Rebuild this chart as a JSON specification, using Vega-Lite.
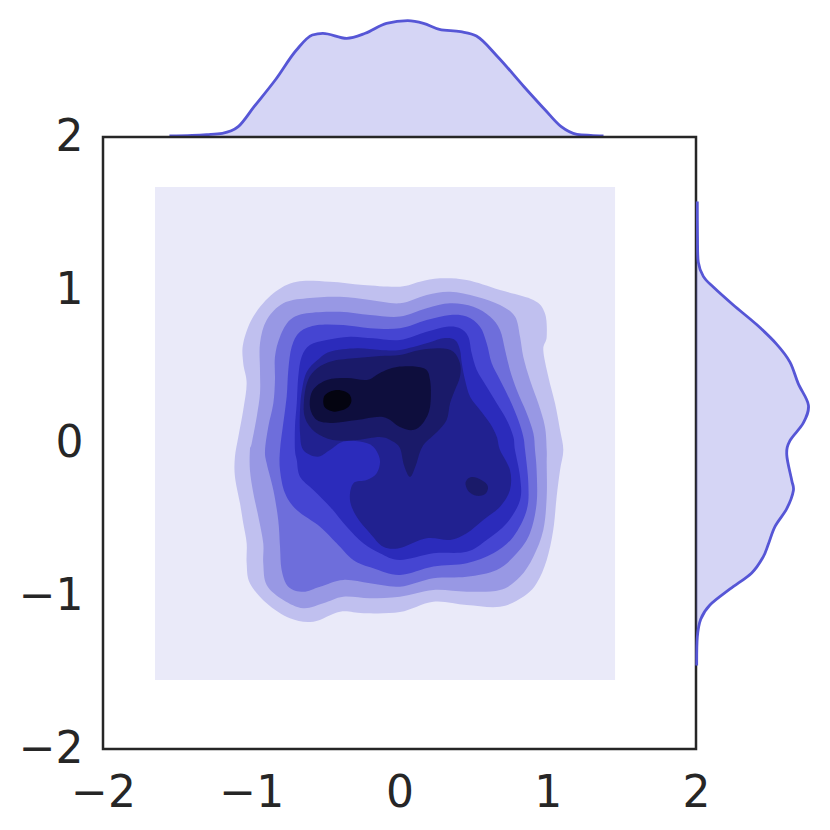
{
  "$schema": "https://vega.github.io/schema/vega-lite/v6.json",
  "padding": {"left": 16, "top": 15, "right": 0, "bottom": 0},
  "background": "white",
  "config": {
    "font": "DejaVu Sans",
    "view": {"stroke": null},
    "axis": {"labelFont": "DejaVu Sans", "labelFontSize": 44, "labelColor": "#262626", "grid": false, "ticks": false, "tickSize": 0, "domain": false, "labelFlush": false, "labelOverlap": false, "title": null}
  },
  "spacing": 0,
  "bounds": "flush",
  "vconcat": [
    {
      "width": 593,
      "height": 122,
      "data": {"values": [
        {"x": -1.552, "d": 0.005}, {"x": -1.4, "d": 0.008}, {"x": -1.3, "d": 0.012}, {"x": -1.195, "d": 0.0185},
        {"x": -1.088, "d": 0.0515}, {"x": -0.981, "d": 0.1515}, {"x": -0.838, "d": 0.285}, {"x": -0.695, "d": 0.435},
        {"x": -0.588, "d": 0.51}, {"x": -0.517, "d": 0.5185}, {"x": -0.356, "d": 0.4935}, {"x": -0.231, "d": 0.5185},
        {"x": -0.088, "d": 0.5685}, {"x": 0.055, "d": 0.5815}, {"x": 0.162, "d": 0.5685}, {"x": 0.269, "d": 0.5385},
        {"x": 0.412, "d": 0.5265}, {"x": 0.519, "d": 0.505}, {"x": 0.662, "d": 0.4015}, {"x": 0.84, "d": 0.2515},
        {"x": 0.983, "d": 0.135}, {"x": 1.091, "d": 0.0515}, {"x": 1.197, "d": 0.0135}, {"x": 1.29, "d": 0.008},
        {"x": 1.376, "d": 0.005}
      ]},
      "layer": [
        {"mark": {"type": "area", "color": "#5656d6", "opacity": 0.25, "interpolate": "monotone"},
         "encoding": {"x": {"field": "x", "type": "quantitative", "scale": {"domain": [-2, 2], "nice": false}, "axis": null},
                      "y": {"field": "d", "type": "quantitative", "scale": {"domain": [0, 0.61], "nice": false}, "axis": null}}},
        {"mark": {"type": "line", "color": "#5656d6", "strokeWidth": 2.8, "interpolate": "monotone"},
         "encoding": {"x": {"field": "x", "type": "quantitative"},
                      "y": {"field": "d", "type": "quantitative"}}}
      ]
    },
    {
      "spacing": 0,
      "bounds": "flush",
      "hconcat": [
        {
          "width": 593,
          "height": 612,
          "view": {"stroke": "#262626", "strokeWidth": 2.5},
          "layer": [
            {"data": {"values": [{"x0": -1.649, "x1": 1.454, "y0": -1.549, "y1": 1.673}]},
             "mark": {"type": "rect", "color": "#eaeaf9"},
             "encoding": {
               "x": {"field": "x0", "type": "quantitative", "scale": {"domain": [-2, 2], "nice": false}, "axis": {"values": [-2, -1, 0, 1, 2], "format": "d", "labelPadding": 22}},
               "x2": {"field": "x1"},
               "y": {"field": "y0", "type": "quantitative", "scale": {"domain": [-2, 2], "nice": false}, "axis": {"values": [-2, -1, 0, 1, 2], "format": "d", "labelPadding": 20}},
               "y2": {"field": "y1"}}},
            {"data": {"values": [
              {"p":"a","c":1,"x":-0.851,"y":0.978},{"p":"a","c":1,"x":-0.693,"y":1.054},{"p":"a","c":1,"x":-0.469,"y":1.054},{"p":"a","c":1,"x":-0.244,"y":1.033},{"p":"a","c":1,"x":0.003,"y":1.022},{"p":"a","c":1,"x":0.138,"y":1.054},{"p":"a","c":1,"x":0.273,"y":1.076},{"p":"a","c":1,"x":0.453,"y":1.065},{"p":"a","c":1,"x":0.678,"y":1.0},{"p":"a","c":1,"x":0.903,"y":0.935},{"p":"a","c":1,"x":0.981,"y":0.848},{"p":"a","c":1,"x":0.993,"y":0.695},{"p":"a","c":1,"x":0.97,"y":0.608},{"p":"a","c":1,"x":1.004,"y":0.433},{"p":"a","c":1,"x":1.049,"y":0.259},{"p":"a","c":1,"x":1.083,"y":0.085},{"p":"a","c":1,"x":1.105,"y":-0.046},{"p":"a","c":1,"x":1.083,"y":-0.177},{"p":"a","c":1,"x":1.06,"y":-0.351},{"p":"a","c":1,"x":1.037,"y":-0.569},{"p":"a","c":1,"x":0.993,"y":-0.765},{"p":"a","c":1,"x":0.925,"y":-0.917},{"p":"a","c":1,"x":0.835,"y":-1.005},{"p":"a","c":1,"x":0.678,"y":-1.07},{"p":"a","c":1,"x":0.453,"y":-1.059},{"p":"a","c":1,"x":0.228,"y":-1.037},{"p":"a","c":1,"x":0.003,"y":-1.105},{"p":"a","c":1,"x":-0.244,"y":-1.113},{"p":"a","c":1,"x":-0.401,"y":-1.103},{"p":"a","c":1,"x":-0.581,"y":-1.168},{"p":"a","c":1,"x":-0.739,"y":-1.146},{"p":"a","c":1,"x":-0.896,"y":-1.048},{"p":"a","c":1,"x":-1.009,"y":-0.917},{"p":"a","c":1,"x":-1.031,"y":-0.786},{"p":"a","c":1,"x":-1.031,"y":-0.656},{"p":"a","c":1,"x":-1.054,"y":-0.525},{"p":"a","c":1,"x":-1.076,"y":-0.394},{"p":"a","c":1,"x":-1.11,"y":-0.22},{"p":"a","c":1,"x":-1.11,"y":-0.09},{"p":"a","c":1,"x":-1.087,"y":0.041},{"p":"a","c":1,"x":-1.054,"y":0.216},{"p":"a","c":1,"x":-1.031,"y":0.39},{"p":"a","c":1,"x":-1.054,"y":0.521},{"p":"a","c":1,"x":-1.054,"y":0.652},{"p":"a","c":1,"x":-0.986,"y":0.826},
              {"p":"b","c":2,"x":-0.784,"y":0.913},{"p":"b","c":2,"x":-0.626,"y":0.946},{"p":"b","c":2,"x":-0.401,"y":0.956},{"p":"b","c":2,"x":-0.199,"y":0.935},{"p":"b","c":2,"x":0.003,"y":0.913},{"p":"b","c":2,"x":0.183,"y":0.967},{"p":"b","c":2,"x":0.341,"y":0.989},{"p":"b","c":2,"x":0.521,"y":0.956},{"p":"b","c":2,"x":0.678,"y":0.902},{"p":"b","c":2,"x":0.779,"y":0.826},{"p":"b","c":2,"x":0.813,"y":0.695},{"p":"b","c":2,"x":0.835,"y":0.564},{"p":"b","c":2,"x":0.88,"y":0.412},{"p":"b","c":2,"x":0.936,"y":0.259},{"p":"b","c":2,"x":0.981,"y":0.107},{"p":"b","c":2,"x":0.993,"y":-0.046},{"p":"b","c":2,"x":0.993,"y":-0.133},{"p":"b","c":2,"x":0.993,"y":-0.351},{"p":"b","c":2,"x":0.97,"y":-0.569},{"p":"b","c":2,"x":0.903,"y":-0.743},{"p":"b","c":2,"x":0.813,"y":-0.874},{"p":"b","c":2,"x":0.678,"y":-0.961},{"p":"b","c":2,"x":0.453,"y":-0.972},{"p":"b","c":2,"x":0.228,"y":-0.961},{"p":"b","c":2,"x":0.003,"y":-1.005},{"p":"b","c":2,"x":-0.199,"y":-1.015},{"p":"b","c":2,"x":-0.379,"y":-1.005},{"p":"b","c":2,"x":-0.514,"y":-1.048},{"p":"b","c":2,"x":-0.649,"y":-1.08},{"p":"b","c":2,"x":-0.784,"y":-1.026},{"p":"b","c":2,"x":-0.896,"y":-0.928},{"p":"b","c":2,"x":-0.919,"y":-0.786},{"p":"b","c":2,"x":-0.919,"y":-0.656},{"p":"b","c":2,"x":-0.952,"y":-0.482},{"p":"b","c":2,"x":-0.986,"y":-0.329},{"p":"b","c":2,"x":-1.009,"y":-0.177},{"p":"b","c":2,"x":-1.009,"y":-0.046},{"p":"b","c":2,"x":-0.997,"y":-0.002},{"p":"b","c":2,"x":-0.963,"y":0.172},{"p":"b","c":2,"x":-0.941,"y":0.325},{"p":"b","c":2,"x":-0.941,"y":0.477},{"p":"b","c":2,"x":-0.941,"y":0.652},{"p":"b","c":2,"x":-0.896,"y":0.804},
              {"p":"c","c":3,"x":-0.739,"y":0.804},{"p":"c","c":3,"x":-0.626,"y":0.848},{"p":"c","c":3,"x":-0.401,"y":0.858},{"p":"c","c":3,"x":-0.199,"y":0.837},{"p":"c","c":3,"x":0.003,"y":0.826},{"p":"c","c":3,"x":0.183,"y":0.88},{"p":"c","c":3,"x":0.341,"y":0.913},{"p":"c","c":3,"x":0.498,"y":0.891},{"p":"c","c":3,"x":0.61,"y":0.826},{"p":"c","c":3,"x":0.678,"y":0.739},{"p":"c","c":3,"x":0.712,"y":0.608},{"p":"c","c":3,"x":0.745,"y":0.477},{"p":"c","c":3,"x":0.791,"y":0.346},{"p":"c","c":3,"x":0.858,"y":0.194},{"p":"c","c":3,"x":0.903,"y":0.063},{"p":"c","c":3,"x":0.914,"y":-0.046},{"p":"c","c":3,"x":0.925,"y":-0.177},{"p":"c","c":3,"x":0.925,"y":-0.394},{"p":"c","c":3,"x":0.88,"y":-0.59},{"p":"c","c":3,"x":0.791,"y":-0.721},{"p":"c","c":3,"x":0.656,"y":-0.83},{"p":"c","c":3,"x":0.453,"y":-0.874},{"p":"c","c":3,"x":0.228,"y":-0.884},{"p":"c","c":3,"x":0.003,"y":-0.939},{"p":"c","c":3,"x":-0.199,"y":-0.917},{"p":"c","c":3,"x":-0.379,"y":-0.895},{"p":"c","c":3,"x":-0.536,"y":-0.939},{"p":"c","c":3,"x":-0.649,"y":-0.972},{"p":"c","c":3,"x":-0.75,"y":-0.939},{"p":"c","c":3,"x":-0.795,"y":-0.83},{"p":"c","c":3,"x":-0.806,"y":-0.678},{"p":"c","c":3,"x":-0.818,"y":-0.503},{"p":"c","c":3,"x":-0.851,"y":-0.307},{"p":"c","c":3,"x":-0.896,"y":-0.133},{"p":"c","c":3,"x":-0.907,"y":-0.046},{"p":"c","c":3,"x":-0.885,"y":0.107},{"p":"c","c":3,"x":-0.851,"y":0.259},{"p":"c","c":3,"x":-0.84,"y":0.412},{"p":"c","c":3,"x":-0.84,"y":0.564},{"p":"c","c":3,"x":-0.806,"y":0.695},
              {"p":"d","c":4,"x":-0.671,"y":0.727},{"p":"d","c":4,"x":-0.553,"y":0.771},{"p":"d","c":4,"x":-0.379,"y":0.771},{"p":"d","c":4,"x":-0.199,"y":0.75},{"p":"d","c":4,"x":0.003,"y":0.75},{"p":"d","c":4,"x":0.183,"y":0.804},{"p":"d","c":4,"x":0.341,"y":0.837},{"p":"d","c":4,"x":0.453,"y":0.826},{"p":"d","c":4,"x":0.543,"y":0.76},{"p":"d","c":4,"x":0.588,"y":0.652},{"p":"d","c":4,"x":0.622,"y":0.521},{"p":"d","c":4,"x":0.678,"y":0.412},{"p":"d","c":4,"x":0.745,"y":0.281},{"p":"d","c":4,"x":0.801,"y":0.15},{"p":"d","c":4,"x":0.835,"y":0.041},{"p":"d","c":4,"x":0.847,"y":-0.046},{"p":"d","c":4,"x":0.869,"y":-0.263},{"p":"d","c":4,"x":0.858,"y":-0.438},{"p":"d","c":4,"x":0.768,"y":-0.612},{"p":"d","c":4,"x":0.633,"y":-0.721},{"p":"d","c":4,"x":0.453,"y":-0.786},{"p":"d","c":4,"x":0.228,"y":-0.808},{"p":"d","c":4,"x":0.003,"y":-0.863},{"p":"d","c":4,"x":-0.177,"y":-0.819},{"p":"d","c":4,"x":-0.312,"y":-0.765},{"p":"d","c":4,"x":-0.424,"y":-0.656},{"p":"d","c":4,"x":-0.536,"y":-0.547},{"p":"d","c":4,"x":-0.693,"y":-0.438},{"p":"d","c":4,"x":-0.772,"y":-0.329},{"p":"d","c":4,"x":-0.806,"y":-0.177},{"p":"d","c":4,"x":-0.806,"y":-0.046},{"p":"d","c":4,"x":-0.784,"y":0.129},{"p":"d","c":4,"x":-0.761,"y":0.303},{"p":"d","c":4,"x":-0.75,"y":0.477},{"p":"d","c":4,"x":-0.727,"y":0.629},
              {"p":"e","c":5,"x":-0.604,"y":0.641},{"p":"e","c":5,"x":-0.491,"y":0.673},{"p":"e","c":5,"x":-0.334,"y":0.695},{"p":"e","c":5,"x":-0.177,"y":0.684},{"p":"e","c":5,"x":0.003,"y":0.673},{"p":"e","c":5,"x":0.183,"y":0.727},{"p":"e","c":5,"x":0.318,"y":0.76},{"p":"e","c":5,"x":0.408,"y":0.75},{"p":"e","c":5,"x":0.464,"y":0.695},{"p":"e","c":5,"x":0.487,"y":0.586},{"p":"e","c":5,"x":0.521,"y":0.477},{"p":"e","c":5,"x":0.588,"y":0.368},{"p":"e","c":5,"x":0.656,"y":0.259},{"p":"e","c":5,"x":0.723,"y":0.15},{"p":"e","c":5,"x":0.768,"y":0.041},{"p":"e","c":5,"x":0.779,"y":-0.046},{"p":"e","c":5,"x":0.813,"y":-0.22},{"p":"e","c":5,"x":0.813,"y":-0.373},{"p":"e","c":5,"x":0.723,"y":-0.525},{"p":"e","c":5,"x":0.588,"y":-0.634},{"p":"e","c":5,"x":0.453,"y":-0.711},{"p":"e","c":5,"x":0.228,"y":-0.721},{"p":"e","c":5,"x":0.003,"y":-0.765},{"p":"e","c":5,"x":-0.132,"y":-0.721},{"p":"e","c":5,"x":-0.244,"y":-0.656},{"p":"e","c":5,"x":-0.356,"y":-0.547},{"p":"e","c":5,"x":-0.469,"y":-0.416},{"p":"e","c":5,"x":-0.581,"y":-0.307},{"p":"e","c":5,"x":-0.671,"y":-0.22},{"p":"e","c":5,"x":-0.693,"y":-0.111},{"p":"e","c":5,"x":-0.705,"y":-0.046},{"p":"e","c":5,"x":-0.705,"y":0.107},{"p":"e","c":5,"x":-0.693,"y":0.259},{"p":"e","c":5,"x":-0.683,"y":0.433},{"p":"e","c":5,"x":-0.66,"y":0.564},
              {"p":"f","c":6,"x":-0.553,"y":0.542},{"p":"f","c":6,"x":-0.469,"y":0.597},{"p":"f","c":6,"x":-0.289,"y":0.619},{"p":"f","c":6,"x":-0.132,"y":0.608},{"p":"f","c":6,"x":0.003,"y":0.608},{"p":"f","c":6,"x":0.183,"y":0.652},{"p":"f","c":6,"x":0.295,"y":0.684},{"p":"f","c":6,"x":0.374,"y":0.673},{"p":"f","c":6,"x":0.408,"y":0.608},{"p":"f","c":6,"x":0.42,"y":0.521},{"p":"f","c":6,"x":0.442,"y":0.412},{"p":"f","c":6,"x":0.476,"y":0.303},{"p":"f","c":6,"x":0.543,"y":0.216},{"p":"f","c":6,"x":0.61,"y":0.129},{"p":"f","c":6,"x":0.656,"y":0.041},{"p":"f","c":6,"x":0.678,"y":-0.046},{"p":"f","c":6,"x":0.745,"y":-0.177},{"p":"f","c":6,"x":0.745,"y":-0.307},{"p":"f","c":6,"x":0.678,"y":-0.416},{"p":"f","c":6,"x":0.565,"y":-0.503},{"p":"f","c":6,"x":0.453,"y":-0.59},{"p":"f","c":6,"x":0.341,"y":-0.634},{"p":"f","c":6,"x":0.183,"y":-0.623},{"p":"f","c":6,"x":0.003,"y":-0.686},{"p":"f","c":6,"x":-0.109,"y":-0.678},{"p":"f","c":6,"x":-0.199,"y":-0.59},{"p":"f","c":6,"x":-0.289,"y":-0.482},{"p":"f","c":6,"x":-0.334,"y":-0.373},{"p":"f","c":6,"x":-0.312,"y":-0.264},{"p":"f","c":6,"x":-0.221,"y":-0.242},{"p":"f","c":6,"x":-0.154,"y":-0.198},{"p":"f","c":6,"x":-0.132,"y":-0.111},{"p":"f","c":6,"x":-0.177,"y":-0.024},{"p":"f","c":6,"x":-0.267,"y":0.009},{"p":"f","c":6,"x":-0.379,"y":0.009},{"p":"f","c":6,"x":-0.469,"y":-0.046},{"p":"f","c":6,"x":-0.553,"y":-0.09},{"p":"f","c":6,"x":-0.649,"y":-0.046},{"p":"f","c":6,"x":-0.671,"y":0.063},{"p":"f","c":6,"x":-0.671,"y":0.216},{"p":"f","c":6,"x":-0.658,"y":0.346},{"p":"f","c":6,"x":-0.626,"y":0.464},
              {"p":"g","c":7,"x":-0.617,"y":0.412},{"p":"g","c":7,"x":-0.553,"y":0.49},{"p":"g","c":7,"x":-0.449,"y":0.536},{"p":"g","c":7,"x":-0.289,"y":0.555},{"p":"g","c":7,"x":-0.132,"y":0.569},{"p":"g","c":7,"x":0.003,"y":0.575},{"p":"g","c":7,"x":0.138,"y":0.608},{"p":"g","c":7,"x":0.273,"y":0.619},{"p":"g","c":7,"x":0.363,"y":0.597},{"p":"g","c":7,"x":0.408,"y":0.521},{"p":"g","c":7,"x":0.408,"y":0.433},{"p":"g","c":7,"x":0.374,"y":0.346},{"p":"g","c":7,"x":0.341,"y":0.259},{"p":"g","c":7,"x":0.318,"y":0.15},{"p":"g","c":7,"x":0.253,"y":0.072},{"p":"g","c":7,"x":0.172,"y":0.0},{"p":"g","c":7,"x":0.138,"y":-0.059},{"p":"g","c":7,"x":0.111,"y":-0.144},{"p":"g","c":7,"x":0.071,"y":-0.222},{"p":"g","c":7,"x":0.03,"y":-0.144},{"p":"g","c":7,"x":0.003,"y":-0.033},{"p":"g","c":7,"x":-0.051,"y":0.013},{"p":"g","c":7,"x":-0.132,"y":0.039},{"p":"g","c":7,"x":-0.287,"y":0.02},{"p":"g","c":7,"x":-0.449,"y":0.02},{"p":"g","c":7,"x":-0.57,"y":0.072},{"p":"g","c":7,"x":-0.637,"y":0.163},{"p":"g","c":7,"x":-0.644,"y":0.281},
              {"p":"h","c":7,"x":0.445,"y":-0.26},{"p":"h","c":7,"x":0.475,"y":-0.225},{"p":"h","c":7,"x":0.525,"y":-0.228},{"p":"h","c":7,"x":0.58,"y":-0.26},{"p":"h","c":7,"x":0.597,"y":-0.295},{"p":"h","c":7,"x":0.575,"y":-0.335},{"p":"h","c":7,"x":0.52,"y":-0.345},{"p":"h","c":7,"x":0.465,"y":-0.315},
              {"p":"i","c":8,"x":-0.584,"y":0.346},{"p":"i","c":8,"x":-0.489,"y":0.412},{"p":"i","c":8,"x":-0.354,"y":0.425},{"p":"i","c":8,"x":-0.219,"y":0.412},{"p":"i","c":8,"x":-0.132,"y":0.458},{"p":"i","c":8,"x":-0.017,"y":0.497},{"p":"i","c":8,"x":0.159,"y":0.49},{"p":"i","c":8,"x":0.206,"y":0.412},{"p":"i","c":8,"x":0.206,"y":0.235},{"p":"i","c":8,"x":0.159,"y":0.131},{"p":"i","c":8,"x":0.091,"y":0.085},{"p":"i","c":8,"x":0.003,"y":0.105},{"p":"i","c":8,"x":-0.111,"y":0.17},{"p":"i","c":8,"x":-0.287,"y":0.15},{"p":"i","c":8,"x":-0.449,"y":0.131},{"p":"i","c":8,"x":-0.557,"y":0.15},{"p":"i","c":8,"x":-0.604,"y":0.235},
              {"p":"j","c":9,"x":-0.51,"y":0.3},{"p":"j","c":9,"x":-0.47,"y":0.335},{"p":"j","c":9,"x":-0.4,"y":0.345},{"p":"j","c":9,"x":-0.34,"y":0.32},{"p":"j","c":9,"x":-0.325,"y":0.27},{"p":"j","c":9,"x":-0.36,"y":0.225},{"p":"j","c":9,"x":-0.44,"y":0.205},{"p":"j","c":9,"x":-0.505,"y":0.235}
            ]},
             "mark": {"type": "line", "filled": true, "interpolate": "cardinal-closed"},
             "encoding": {
               "x": {"field": "x", "type": "quantitative"},
               "y": {"field": "y", "type": "quantitative"},
               "detail": {"field": "p"},
               "order": {"value": null},
               "color": {"field": "c", "type": "ordinal", "scale": {"domain": [1, 2, 3, 4, 5, 6, 7, 8, 9], "range": ["#c0c0ef", "#9898e4", "#6e6edb", "#4545d2", "#2b2bbb", "#212190", "#1a1a69", "#0e0e3d", "#040410"]}, "legend": null}}}
          ]
        },
        {
          "width": 119,
          "height": 612,
          "data": {"values": [
            {"y": -1.455, "d": 0.0037}, {"y": -1.269, "d": 0.0069}, {"y": -1.152, "d": 0.025}, {"y": -1.059, "d": 0.074},
            {"y": -0.954, "d": 0.181}, {"y": -0.849, "d": 0.296}, {"y": -0.744, "d": 0.357}, {"y": -0.662, "d": 0.384},
            {"y": -0.545, "d": 0.42}, {"y": -0.429, "d": 0.482}, {"y": -0.312, "d": 0.517}, {"y": -0.242, "d": 0.508},
            {"y": -0.078, "d": 0.482}, {"y": 0.015, "d": 0.499}, {"y": 0.131, "d": 0.57}, {"y": 0.248, "d": 0.597},
            {"y": 0.388, "d": 0.543}, {"y": 0.529, "d": 0.499}, {"y": 0.645, "d": 0.429}, {"y": 0.774, "d": 0.322},
            {"y": 0.902, "d": 0.198}, {"y": 1.019, "d": 0.0919}, {"y": 1.089, "d": 0.0388}, {"y": 1.182, "d": 0.0122},
            {"y": 1.35, "d": 0.008}, {"y": 1.579, "d": 0.0069}
          ]},
          "layer": [
            {"mark": {"type": "area", "orient": "horizontal", "color": "#5656d6", "opacity": 0.25, "interpolate": "cardinal"},
             "encoding": {"y": {"field": "y", "type": "quantitative", "scale": {"domain": [-2, 2], "nice": false}, "axis": null},
                          "x": {"field": "d", "type": "quantitative", "scale": {"domain": [0, 0.632], "nice": false}, "axis": null}}},
            {"mark": {"type": "line", "color": "#5656d6", "strokeWidth": 2.8, "interpolate": "cardinal"},
             "encoding": {"y": {"field": "y", "type": "quantitative"},
                          "x": {"field": "d", "type": "quantitative"},
                          "order": {"field": "y", "type": "quantitative"}}}
          ]
        }
      ]
    }
  ]
}
